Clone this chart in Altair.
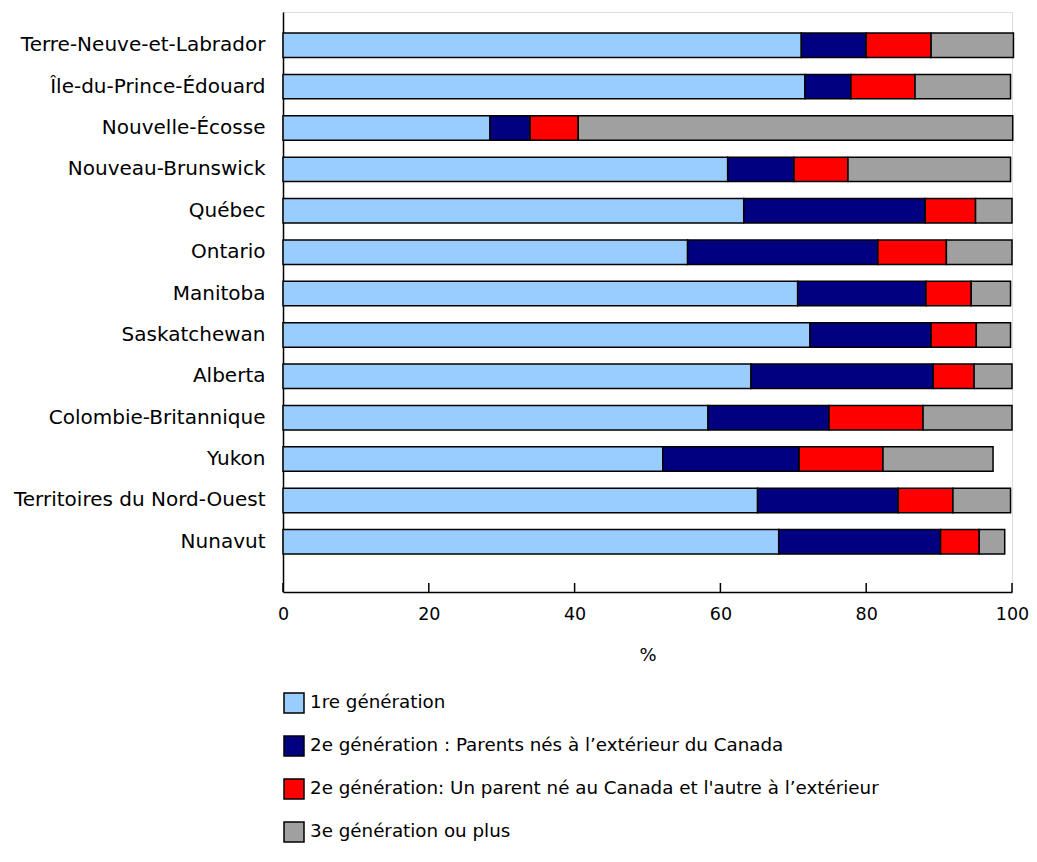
import altair as alt
import pandas as pd

provinces = [
    "Terre-Neuve-et-Labrador", "Île-du-Prince-Édouard", "Nouvelle-Écosse",
    "Nouveau-Brunswick", "Québec", "Ontario", "Manitoba", "Saskatchewan",
    "Alberta", "Colombie-Britannique", "Yukon", "Territoires du Nord-Ouest",
    "Nunavut",
]
series = [
    "1re génération",
    "2e génération : Parents nés à l’extérieur du Canada",
    "2e génération: Un parent né au Canada et l'autre à l’extérieur",
    "3e génération ou plus",
]
gen1 = [71.1, 71.6, 28.4, 61.0, 63.2, 55.5, 70.6, 72.3, 64.2, 58.3, 52.1, 65.1, 68.0]
gen2_both = [8.9, 6.3, 5.5, 9.1, 24.9, 26.1, 17.6, 16.6, 25.0, 16.6, 18.7, 19.3, 22.2]
gen2_one = [8.9, 8.8, 6.6, 7.4, 6.9, 9.4, 6.2, 6.2, 5.6, 12.9, 11.5, 7.5, 5.3]
gen3 = [11.3, 13.1, 59.6, 22.3, 5.0, 9.0, 5.4, 4.7, 5.2, 12.2, 15.1, 7.9, 3.5]
colors = ["#99CCFF", "#000080", "#FF0000", "#A0A0A0"]
x_ticks = [0, 20, 40, 60, 80, 100]

rows = []
for vals, s_i in zip([gen1, gen2_both, gen2_one, gen3], range(4)):
    for p, v in zip(provinces, vals):
        rows.append({"Province": p, "Série": series[s_i], "ordre": s_i, "Valeur": v})
df = pd.DataFrame(rows)
ticks_df = pd.DataFrame({"t": x_ticks})

FONT = "DejaVu Sans"
H = 580

bars = (
    alt.Chart(df)
    .mark_bar(stroke="black", strokeWidth=1.5)
    .encode(
        y=alt.Y(
            "Province:N",
            sort=provinces,
            title=None,
            scale=alt.Scale(paddingInner=0.408, paddingOuter=0.713, align=0.356),
            axis=alt.Axis(
                ticks=False,
                labelFontSize=20,
                labelFont=FONT,
                labelColor="black",
                labelPadding=18,
                domainColor="black",
                domainWidth=1.5,
                labelLimit=400,
            ),
        ),
        x=alt.X(
            "Valeur:Q",
            stack="zero",
            title="%",
            scale=alt.Scale(domain=[0, 100], nice=False),
            axis=alt.Axis(
                values=x_ticks,
                grid=False,
                ticks=False,
                labelFlush=False,
                domainColor="black",
                domainWidth=1.5,
                labelFontSize=17.5,
                labelFont=FONT,
                labelColor="black",
                labelPadding=13,
                titleFontSize=18,
                titleFont=FONT,
                titleFontWeight="normal",
                titleColor="black",
                titlePadding=24,
            ),
        ),
        color=alt.Color(
            "Série:N",
            sort=series,
            scale=alt.Scale(domain=series, range=colors),
            legend=alt.Legend(
                title=None,
                orient="none",
                legendX=0,
                legendY=680,
                direction="vertical",
                symbolType="square",
                symbolSize=400,
                symbolStrokeColor="black",
                symbolStrokeWidth=1.5,
                symbolOpacity=1,
                labelFontSize=18.3,
                labelFont=FONT,
                labelColor="black",
                labelLimit=800,
                rowPadding=17,
                labelOffset=5,
            ),
        ),
        order=alt.Order("ordre:Q", sort="ascending"),
    )
)

tick_marks = (
    alt.Chart(ticks_df)
    .mark_rule(color="black", strokeWidth=1.5)
    .encode(x=alt.X("t:Q"), y=alt.value(H - 9), y2=alt.value(H))
)

chart = (
    alt.layer(bars, tick_marks)
    .properties(
        width=729,
        height=H,
        autosize=alt.AutoSizeParams(type="none"),
        padding={"left": 275, "top": 4, "right": 17, "bottom": 262},
    )
    .configure_view(stroke="black", strokeWidth=1.5)
    .configure(font=FONT)
)

chart.save("out.html", embed_options={"renderer": "svg", "actions": False})
